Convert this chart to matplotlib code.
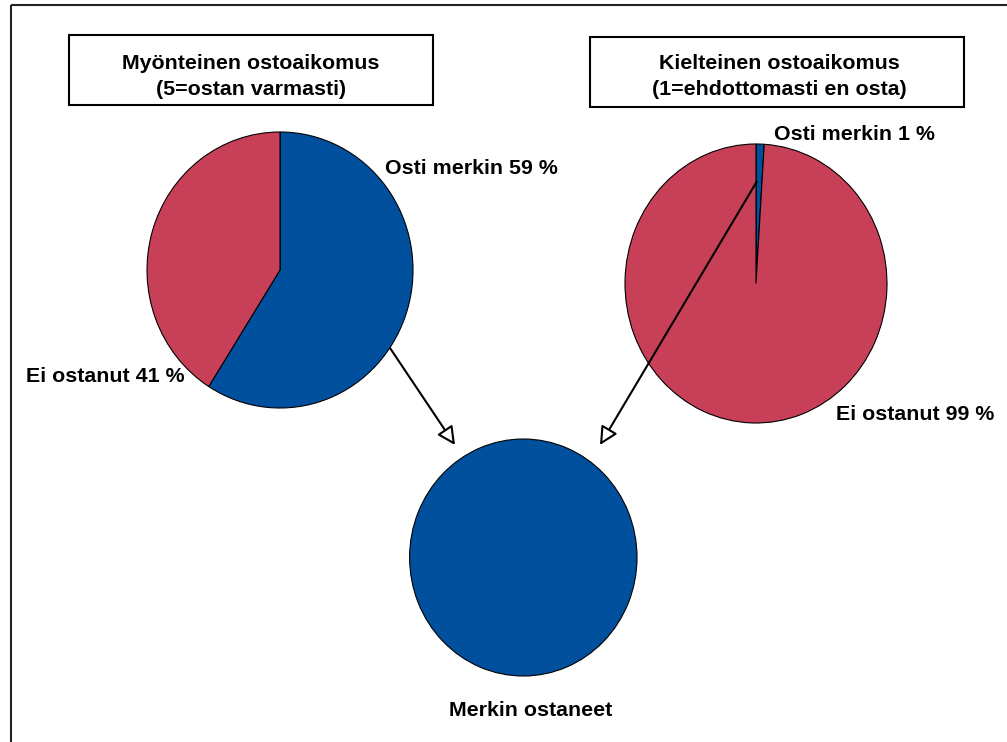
import matplotlib
matplotlib.use("Agg")
import matplotlib.pyplot as plt
from matplotlib.patches import Rectangle, FancyArrowPatch

plt.rcParams['font.family'] = ['Liberation Sans', 'DejaVu Sans']

# ---- data ----
categories = ['Osti merkin', 'Ei ostanut']
positive_values = [59, 41]      # Myönteinen ostoaikomus
negative_values = [1, 99]       # Kielteinen ostoaikomus
bought_values = [100]           # Merkin ostaneet
colors = ['#00509E', '#C84058']
titles = ['Myönteinen ostoaikomus\n(5=ostan varmasti)',
          'Kielteinen ostoaikomus\n(1=ehdottomasti en osta)']
bottom_label = 'Merkin ostaneet'

W, H = 1007, 742
fig = plt.figure(figsize=(W / 100, H / 100), dpi=100)
fig.patch.set_facecolor('white')

FS = 15.4


def pie_axes(cx, cy, rx, ry, values, cols):
    ax = fig.add_axes([(cx - rx) / W, 1 - (cy + ry) / H, 2 * rx / W, 2 * ry / H])
    wedges, _ = ax.pie(values, colors=cols, startangle=90, counterclock=False,
                       wedgeprops=dict(edgecolor='black', linewidth=0.8))
    for w in wedges:
        w.set_clip_on(False)
    ax.set_aspect('auto')
    ax.set_xlim(-1, 1)
    ax.set_ylim(-1, 1)
    ax.axis('off')
    return ax


pie_axes(280, 270, 133, 138, positive_values, colors)
pie_axes(756, 283.5, 131, 139.5, negative_values, colors)
pie_axes(523.3, 557.5, 113.7, 118.5, bought_values, colors[:1])

# overlay axes in pixel coordinates
ov = fig.add_axes([0, 0, 1, 1])
ov.set_xlim(0, W)
ov.set_ylim(H, 0)
ov.axis('off')

# outer frame
ov.add_patch(Rectangle((10.5, 5), 1010, 760, fill=False, edgecolor='#222222',
                       linewidth=1.5, clip_on=False))

# title boxes
ov.add_patch(Rectangle((69, 35), 364, 70, fill=False, edgecolor='black', linewidth=1.5))
ov.add_patch(Rectangle((590, 37), 374, 70, fill=False, edgecolor='black', linewidth=1.5))
for (x, title) in zip([251, 779], titles):
    l1, l2 = title.split('\n')
    ov.text(x, 69, l1, ha='center', va='baseline', fontsize=FS, fontweight='bold')
    ov.text(x, 95, l2, ha='center', va='baseline', fontsize=FS, fontweight='bold')

# slice labels
ov.text(385, 174, f'{categories[0]} {positive_values[0]} %', ha='left', va='baseline',
        fontsize=FS, fontweight='bold')
ov.text(185, 382, f'{categories[1]} {positive_values[1]} %', ha='right', va='baseline',
        fontsize=FS, fontweight='bold')
ov.text(774, 140, f'{categories[0]} {negative_values[0]} %', ha='left', va='baseline',
        fontsize=FS, fontweight='bold')
ov.text(836, 420, f'{categories[1]} {negative_values[1]} %', ha='left', va='baseline',
        fontsize=FS, fontweight='bold')
ov.text(531, 716, bottom_label, ha='center', va='baseline', fontsize=FS, fontweight='bold')

# arrows
for start, tip in [((390, 348), (455, 445)), ((756.7, 181.7), (600, 445))]:
    arr = FancyArrowPatch(start, tip, arrowstyle='-|>,head_length=1.1,head_width=0.55',
                          mutation_scale=10, facecolor='white', edgecolor='black',
                          linewidth=1.5, shrinkA=0, shrinkB=0)
    ov.add_patch(arr)

fig.savefig('out.png', dpi=100, facecolor='white')
